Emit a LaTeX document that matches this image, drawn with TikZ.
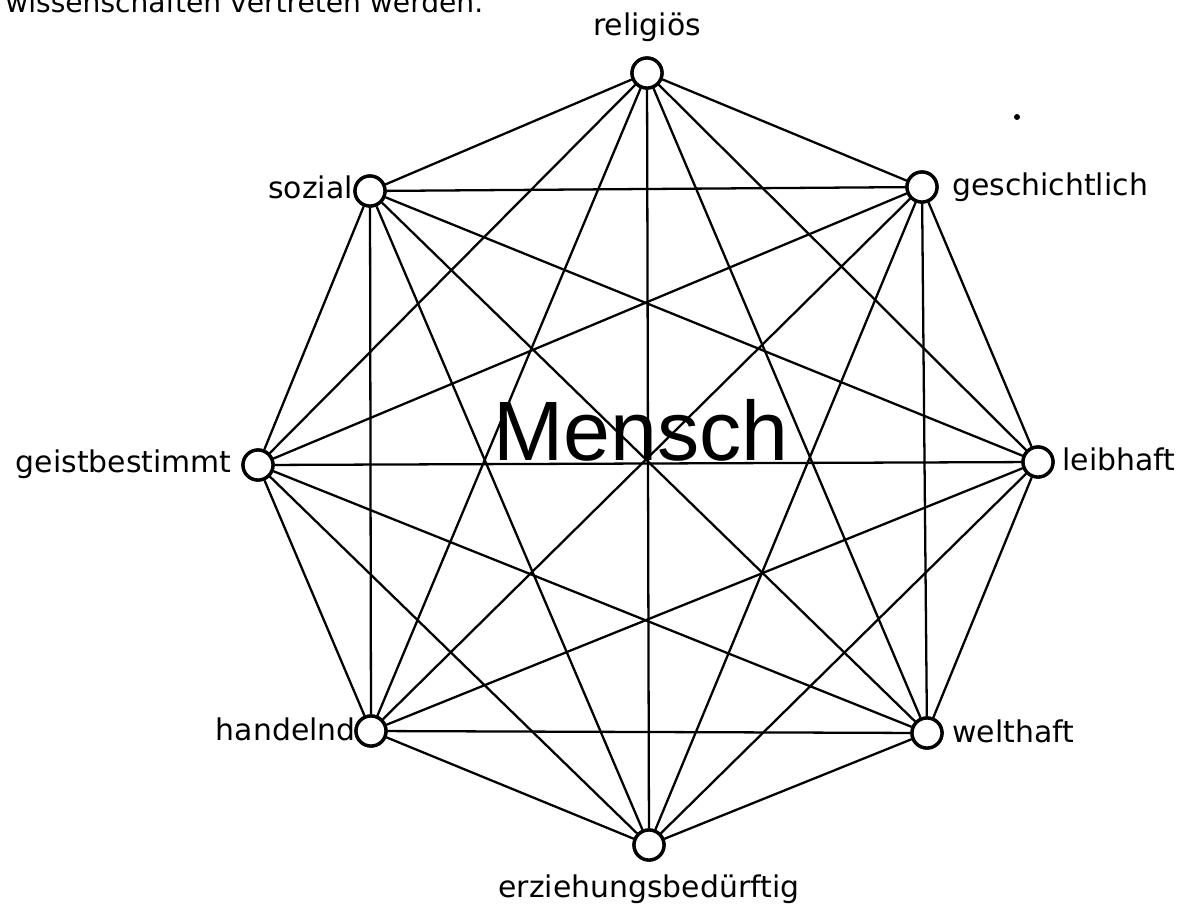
\documentclass[tikz,border=0pt]{standalone}
\usepackage{fontspec}
\setmainfont{DejaVu Sans}
\newfontfamily\menschfont{Liberation Sans}
\begin{document}
\begin{tikzpicture}[x=0.02cm,y=-0.02cm,
  vtx/.style={circle,draw,line width=1.9pt,fill=white,inner sep=0pt,minimum size=0.6cm},
  lbl/.style={font=\fontsize{17}{20}\selectfont,inner sep=0pt},
  edge/.style={line width=1.3pt}]
\useasboundingbox (0,0) rectangle (1197,904);
\node[anchor=base west,inner sep=0pt,font=\fontsize{16}{19}\selectfont] (top) at (5,12) {wissenschaften vertreten werden.};
\coordinate (rP) at (647,73);
\coordinate (gP) at (922,187);
\coordinate (lP) at (1038,462);
\coordinate (wP) at (927,733);
\coordinate (eP) at (649,845);
\coordinate (hP) at (371,731);
\coordinate (giP) at (258,465);
\coordinate (sP) at (370,191);
\foreach \n in {r,g,l,w,e,h,gi,s} {\node[vtx] (\n) at (\n P) {};}
\foreach \a/\b in {r/g,r/l,r/w,r/e,r/h,r/gi,r/s,
  g/l,g/w,g/e,g/h,g/gi,g/s,
  l/w,l/e,l/h,l/gi,l/s,
  w/e,w/h,w/gi,w/s,
  e/h,e/gi,e/s,
  h/gi,h/s,
  gi/s} {\draw[edge] (\a) -- (\b);}
\foreach \n in {r,g,l,w,e,h,gi,s} {\node[vtx] at (\n P) {};}
\node[anchor=base,font=\menschfont\fontsize{48}{52}\selectfont,inner sep=0pt] (mensch) at (641,460) {Mensch};
\node[lbl,anchor=base] (tr) at (647,35) {religiös};
\node[lbl,anchor=base west] (tg) at (952,195) {geschichtlich};
\node[lbl,anchor=base west] (tl) at (1062,470) {leibhaft};
\node[lbl,anchor=base west] (tw) at (952,742) {welthaft};
\node[lbl,anchor=base] (te) at (649,897) {erziehungsbedürftig};
\node[lbl,anchor=base east] (th) at (356,740) {handelnd};
\node[lbl,anchor=base east] (tgi) at (232,472) {geistbestimmt};
\node[lbl,anchor=base east] (ts) at (353,198) {sozial};
\fill (1017,117) circle (3);
\end{tikzpicture}
\end{document}
